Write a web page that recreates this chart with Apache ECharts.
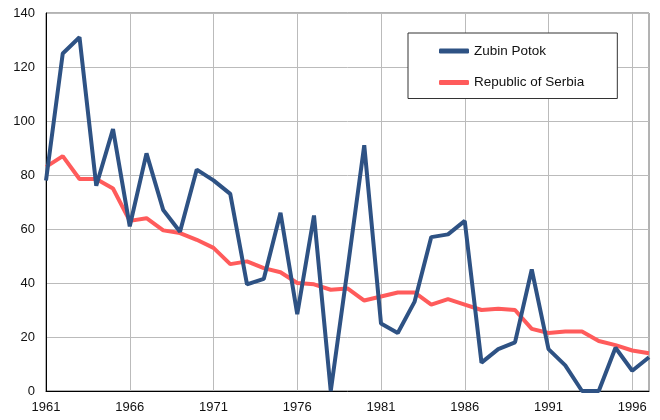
<!DOCTYPE html>
<html><head><meta charset="utf-8">
<script src="https://cdn.jsdelivr.net/npm/echarts@6/dist/echarts.min.js"></script>
<style>html,body{margin:0;padding:0;background:#fff}#c{width:660px;height:420px}</style>
</head><body><div id="c"></div>
<script>
const years = [];
for (let y = 1961; y <= 1997; y++) years.push(String(y));
const zubinPotok = [78,125,131,76,97,61,88,67,59,82,78,73,39.5,41.5,66,28.5,65,0,45,91,25,21.5,33,57,58,63,10.5,15.5,18,45,15.5,9.5,0,0,16,7.5,12.5];
const serbia = [83,87,78.5,78.5,75,63,64,59.5,58.5,56,53,47,48,45.5,44,40,39.5,37.5,38,33.5,35,36.5,36.5,32,34,32,30,30.5,30,23,21.5,22,22,18.5,17,15,14];
const seriesNames = ['Zubin Potok', 'Republic of Serbia'];
const yTicks = {min: 0, max: 140, interval: 20};

const chart = echarts.init(document.getElementById('c'));
const every5 = (i) => i % 5 === 0;
chart.setOption({
  animation: false,
  textStyle: {fontFamily: 'Liberation Sans, Arial, sans-serif'},
  grid: {left: 46, right: 11, top: 13, bottom: 29, show: true, borderColor: '#666', borderWidth: 1},
  legend: {
    orient: 'vertical', left: 408, top: 33,
    padding: [11, 33, 9, 31], itemGap: 17.5,
    itemWidth: 30, itemHeight: 5, icon: 'roundRect',
    borderColor: '#333', borderWidth: 1, backgroundColor: '#fff',
    textStyle: {fontSize: 13.5, color: '#111', fontFamily: 'Liberation Sans, Arial, sans-serif'},
    data: seriesNames
  },
  xAxis: {
    type: 'category', data: years, boundaryGap: false,
    axisLine: {lineStyle: {color: '#000', width: 1}},
    axisTick: {show: false},
    axisLabel: {interval: every5, color: '#111', fontSize: 13, margin: 10},
    splitLine: {show: true, interval: every5, lineStyle: {color: '#bbb', width: 1}}
  },
  yAxis: {
    type: 'value', min: yTicks.min, max: yTicks.max, interval: yTicks.interval,
    axisLine: {show: true, lineStyle: {color: '#000', width: 1}},
    axisTick: {show: false},
    axisLabel: {color: '#111', fontSize: 13, margin: 11},
    splitLine: {show: true, lineStyle: {color: '#bbb', width: 1}}
  },
  series: [
    {name: seriesNames[0], type: 'line', data: zubinPotok, symbol: 'none', z: 3,
     lineStyle: {color: '#2E5284', width: 4}, itemStyle: {color: '#2E5284'}},
    {name: seriesNames[1], type: 'line', data: serbia, symbol: 'none', z: 2,
     lineStyle: {color: '#FF5B5B', width: 4}, itemStyle: {color: '#FF5B5B'}}
  ]
});
</script></body></html>
